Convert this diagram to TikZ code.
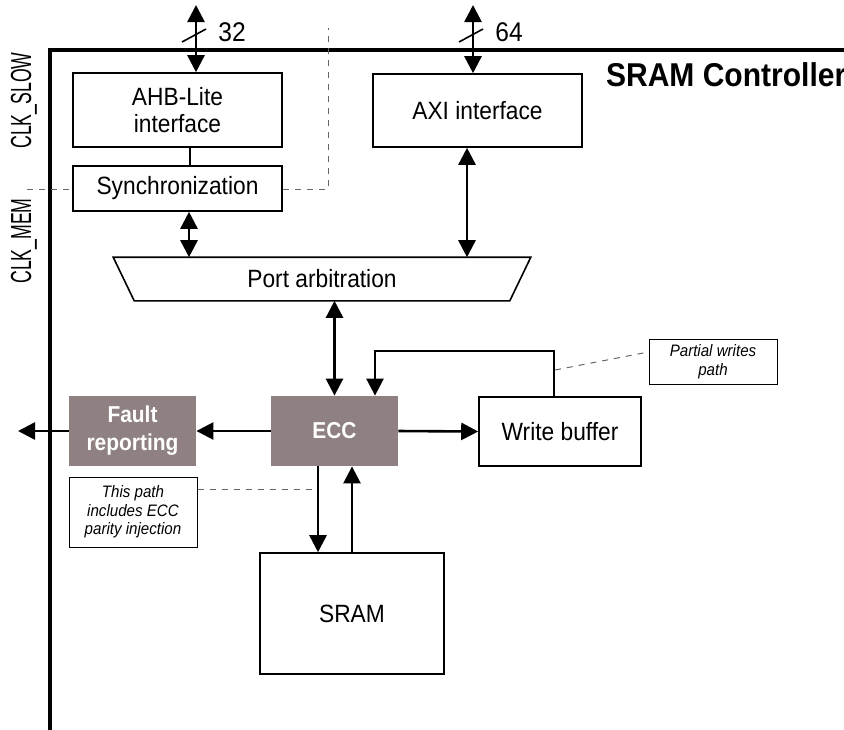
\documentclass[tikz,border=0pt]{standalone}
\usepackage{fontspec}
\setmainfont{Liberation Sans}[FakeStretch=0.91]
\usetikzlibrary{arrows.meta}
\definecolor{eccgray}{RGB}{143,129,129}
\begin{document}
\begin{tikzpicture}[x=0.5pt,y=-0.5pt,
    blk/.style={draw,line width=0.8pt,fill=white,inner sep=0pt,align=center,
      font=\fontsize{12.5}{13.5}\selectfont},
    hot/.style={fill=eccgray,inner sep=0pt,align=center,text=white,
      font=\fontsize{11.5}{14}\selectfont\bfseries},
    note/.style={draw,line width=0.5pt,fill=white,inner sep=0pt,align=center,
      font=\fontsize{8.3}{9.3}\selectfont\itshape},
    tip/.tip={Triangle[length=8.5pt,width=8.5pt]},
    arr/.style={line width=1.3pt,-tip},
    dbl/.style={line width=1.3pt,tip-tip},
    link/.style={line width=0.8pt},
    hint/.style={dashed,line width=0.5pt,gray!80!black},
    clk/.style={rotate=90,font=\fontsize{14.5}{15}\selectfont}]
    \useasboundingbox (0,0) rectangle (844,729);
    % controller outline
    \draw[line width=1.6pt] (50,740) -- (50,50) -- (860,50);
    \node[anchor=base west,font=\fontsize{16.5}{18}\selectfont\bfseries] (title) at (599,86) {SRAM Controller};
    % blocks
    \node[blk,minimum width=104.5pt,minimum height=37pt] (ahb) at (177.5,110) {AHB-Lite\\interface};
    \node[blk,minimum width=104.5pt,minimum height=22.5pt] (sync) at (177.5,188.5) {Synchronization};
    \node[blk,minimum width=104.5pt,minimum height=36.5pt] (axi) at (477.5,110.5) {AXI interface};
    \node[blk,draw=none,fill=none,minimum width=208pt,minimum height=21pt] (port) at (322,279) {Port arbitration};
    \draw[link] (port.north west) -- (port.north east) -- ([xshift=-10.5pt]port.south east)
      -- ([xshift=10.5pt]port.south west) -- cycle;
    \node[hot,minimum width=63.5pt,minimum height=35pt] (ecc) at (334.5,431) {ECC};
    \node[hot,minimum width=63.5pt,minimum height=35pt] (fault) at (132.5,431) {Fault\\reporting};
    \node[blk,minimum width=81pt,minimum height=34.5pt] (wbuf) at (560,431.5) {Write buffer};
    \node[blk,minimum width=92pt,minimum height=60.5pt] (sram) at (352,613.5) {SRAM};
    \node[note,minimum width=64pt,minimum height=35pt] (pnote) at (133,512) {This path\\includes ECC\\parity injection};
    \node[note,minimum width=64pt,minimum height=22.5pt] (wnote) at (713,361.5) {Partial writes\\path};
    % clock domains
    \node[clk] (slow) at (24,100.5) {\scalebox{0.67}[1]{CLK\_SLOW}};
    \node[clk] (mem) at (24,241) {\scalebox{0.67}[1]{CLK\_MEM}};
    \coordinate (cdl) at (27,189);
    \coordinate (cdr) at (328,189);
    \coordinate (cdt) at (328,28);
    \draw[hint] (cdl) -- (cdl -| sync.west);
    \draw[hint] (cdr -| sync.east) -- (cdr) -- (cdt);
    % external buses
    \coordinate (ahbbus) at (196,5);
    \coordinate (axibus) at (473,5);
    \draw[dbl] (ahbbus) -- (ahbbus |- ahb.north);
    \draw[dbl] (axibus) -- (axibus |- axi.north);
    \draw[link] (182,42) -- (206,29);
    \draw[link] (459,42) -- (483,29);
    \node[font=\fontsize{13.5}{14}\selectfont] (w32) at (232,32) {32};
    \node[font=\fontsize{13.5}{14}\selectfont] (w64) at (509,32) {64};
    % internal paths
    \draw[link] ([xshift=6.25pt]ahb.south) -- ([xshift=6.25pt]sync.north);
    \draw[dbl] ([xshift=5.75pt]sync.south) -- ([xshift=5.75pt]sync.south |- port.north);
    \draw[dbl] ([xshift=-5.25pt]axi.south) -- ([xshift=-5.25pt]axi.south |- port.north);
    \draw[dbl] (ecc.north |- port.south) -- (ecc.north);
    \draw[arr] (ecc.west) -- (fault.east);
    \coordinate (out) at (18,431);
    \draw[arr] (fault.west) -- (out);
    \draw[arr] (ecc.east) -- (wbuf.west);
    \coordinate (fbk) at (375,351);
    \draw[arr] ([xshift=-3pt]wbuf.north) |- (fbk) -- (fbk |- ecc.north);
    \draw[arr] ([xshift=-8.25pt]ecc.south) -- ([xshift=-8.25pt]ecc.south |- sram.north);
    \draw[arr] (sram.north) -- (sram.north |- ecc.south);
    % annotations
    \coordinate (ptap) at (317,489);
    \coordinate (wtap) at (555,370);
    \draw[hint] ([yshift=11.5pt]pnote.east) -- (ptap);
    \draw[hint] (wtap) -- ([yshift=4.75pt]wnote.west);
  \end{tikzpicture}
\end{document}
